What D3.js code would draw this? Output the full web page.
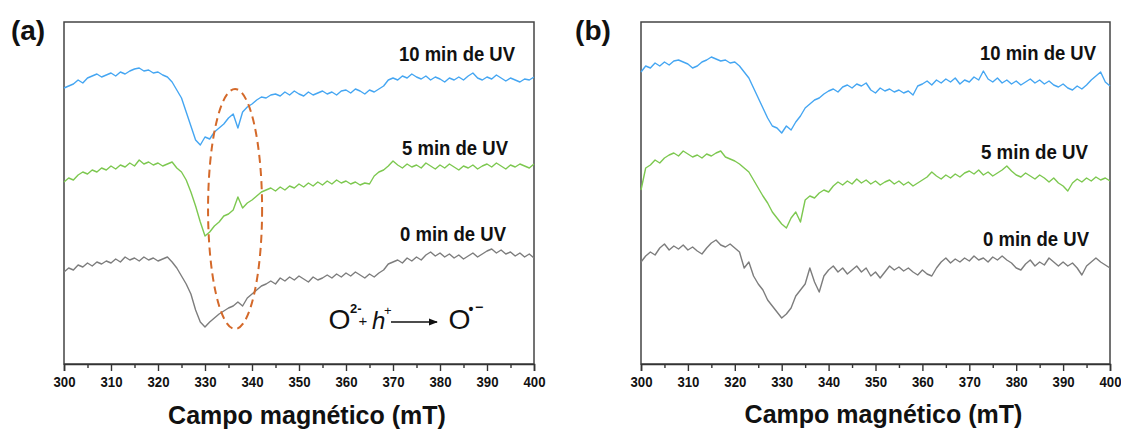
<!DOCTYPE html>
<html>
<head>
<meta charset="utf-8">
<script src="https://cdn.jsdelivr.net/npm/d3@7"></script>
<style>
  html, body { margin: 0; padding: 0; background: #fff; }
  svg { display: block; font-family: "Liberation Sans", Arial, sans-serif; }
</style>
</head>
<body>
<svg id="chart" width="1121" height="432"></svg>
<script>
// ---------- DATA ----------
// Magnetic field (mT), one point per mT from 300 to 400
const field = d3.range(300, 401);

const xTicks = [300, 310, 320, 330, 340, 350, 360, 370, 380, 390, 400];
const xMinorTicks = [305, 315, 325, 335, 345, 355, 365, 375, 385, 395];
const xLabel = "Campo magnético (mT)";
const seriesNames = ["10 min de UV", "5 min de UV", "0 min de UV"];
const panelNames = ["(a)", "(b)"];

// EPR intensity (a.u., stacked offsets as plotted) — panel (a)
const a10 = [276,278,280,284,281,286,288,290,287,289,291,288,292,290,293,295,296,293,294,291,
  292,289,287,282,274,266,252,238,224,219,227,225,232,236,240,246,250,236,252,257,
  260,264,267,266,269,270,268,272,269,273,270,268,272,269,271,273,270,272,269,273,
  274,271,275,273,270,274,272,275,278,284,286,284,288,286,290,287,285,288,284,287,
  285,282,286,284,287,284,288,291,286,284,287,285,289,286,283,286,284,282,285,284,287];
const a5 = [182,186,184,189,192,190,194,192,196,194,198,195,199,197,201,198,204,200,202,199,
  201,198,200,202,196,192,184,172,158,142,128,132,138,142,148,150,154,167,156,161,
  164,168,172,174,176,173,177,174,178,176,180,177,181,178,182,179,183,180,184,181,
  183,180,182,179,181,180,188,192,194,198,203,199,196,200,197,199,196,201,198,195,
  199,196,200,197,194,198,196,199,195,198,200,197,201,198,195,199,197,200,198,196,200];
const a0 = [92,96,94,99,97,101,98,102,100,103,101,105,102,107,104,106,103,107,104,106,
  103,105,107,102,96,88,80,70,54,42,37,42,46,50,53,56,58,62,58,66,
  70,74,78,80,83,80,86,83,87,84,88,85,82,87,84,86,89,86,90,87,
  91,88,92,89,86,90,87,91,94,100,102,104,101,106,103,107,104,109,112,108,
  111,107,110,106,109,105,108,111,107,110,113,115,111,114,110,112,108,111,107,110,106];

// Panel (b)
const b10 = [292,298,296,301,298,302,299,303,304,302,300,296,298,302,304,307,305,303,304,301,
  302,298,292,286,276,266,256,246,238,236,231,238,234,242,248,256,260,264,266,270,
  273,275,272,277,279,276,280,278,281,274,271,276,273,275,272,274,271,273,269,278,
  280,283,279,284,281,285,282,286,280,284,282,287,284,293,285,282,286,281,284,280,
  283,279,282,285,281,284,280,283,279,277,280,276,274,278,275,279,284,288,292,282,278];
const b5 = [174,196,199,204,201,206,209,211,208,213,210,207,209,206,210,208,211,213,207,205,
  203,200,196,192,184,176,168,161,152,146,140,136,146,152,142,164,168,166,171,174,
  172,178,182,179,183,180,185,181,184,180,183,179,182,184,180,183,179,182,178,181,
  184,187,192,188,185,189,186,190,187,191,193,190,194,189,192,188,191,194,198,193,
  189,187,191,188,185,189,186,182,186,181,178,173,181,185,182,186,183,187,184,186,183];
const b0 = [102,108,112,109,116,120,114,118,115,119,114,117,113,110,116,121,124,119,117,120,
  116,112,96,102,88,80,74,64,58,52,46,50,56,68,74,80,96,82,72,88,
  94,98,92,96,90,94,98,92,96,88,92,86,92,98,94,97,93,96,92,89,
  94,90,88,96,102,106,101,105,102,106,103,108,104,106,102,107,104,108,104,101,
  96,94,100,104,98,102,99,106,102,98,102,98,101,96,89,98,102,106,102,99,96];

const colors = ["#45a6f2", "#7dc850", "#7d7d7d"];

// Ellipse annotation (panel a), in data units
const ellipseCenter = [336.4, 155];
const ellipseRadius = [5.75, 120];

// ---------- LAYOUT ----------
const svg = d3.select("#chart");
const panels = [
  { left: 64, right: 534, top: 22, bottom: 364, series: [a10, a5, a0], name: panelNames[0], nameX: 28,
    labels: [{x: 457, y: 60.5, w: 116}, {x: 455, y: 154.5, w: 106}, {x: 453, y: 240.5, w: 106}], titleY: 424 },
  { left: 641, right: 1110, top: 22, bottom: 364, series: [b10, b5, b0], name: panelNames[1], nameX: 593,
    labels: [{x: 1038, y: 60, w: 116}, {x: 1034.5, y: 159, w: 107}, {x: 1036, y: 245.5, w: 106}], titleY: 423 }
];

panels.forEach((p, pi) => {
  const x = d3.scaleLinear().domain([300, 400]).range([p.left, p.right]);
  const y = d3.scaleLinear().domain([0, 342]).range([p.bottom, p.top]);
  const g = svg.append("g");

  // frame
  g.append("rect")
    .attr("x", p.left).attr("y", p.top)
    .attr("width", p.right - p.left).attr("height", p.bottom - p.top)
    .attr("fill", "none").attr("stroke", "#444").attr("stroke-width", 1.5);

  // lines
  const line = d3.line().x((d, i) => x(field[i])).y(d => y(d));
  p.series.forEach((s, si) => {
    g.append("path").datum(s)
      .attr("d", line)
      .attr("fill", "none")
      .attr("stroke", colors[si])
      .attr("stroke-width", 1.4)
      .attr("stroke-linejoin", "round");
  });

  // minor ticks
  g.append("g")
    .attr("transform", `translate(0,${p.bottom})`)
    .call(d3.axisBottom(x).tickValues(xMinorTicks).tickSize(4).tickFormat(""))
    .call(a => a.select(".domain").remove())
    .call(a => a.selectAll("line").attr("stroke", "#333").attr("stroke-width", 1.4));

  // major axis
  const ax = g.append("g")
    .attr("transform", `translate(0,${p.bottom})`)
    .call(d3.axisBottom(x).tickValues(xTicks).tickSize(7).tickPadding(5).tickFormat(d3.format("d")));
  ax.select(".domain").attr("stroke", "#333").attr("stroke-width", 1.6);
  ax.selectAll("line").attr("stroke", "#333").attr("stroke-width", 1.4);
  ax.selectAll("text")
    .attr("fill", "#111")
    .style("font-size", "15px")
    .style("font-weight", "bold")
    .style("font-family", "'Liberation Sans', Arial, sans-serif")
    .attr("textLength", 22)
    .attr("lengthAdjust", "spacingAndGlyphs");

  // series labels
  p.labels.forEach((l, li) => {
    g.append("text")
      .attr("x", l.x).attr("y", l.y)
      .attr("text-anchor", "middle")
      .attr("font-size", 20.5)
      .attr("font-weight", "bold")
      .attr("fill", "#111")
      .attr("textLength", l.w)
      .attr("lengthAdjust", "spacingAndGlyphs")
      .text(seriesNames[li]);
  });

  // axis title
  g.append("text")
    .attr("x", (p.left + p.right) / 2 + 8).attr("y", p.titleY)
    .attr("text-anchor", "middle")
    .attr("font-size", 25)
    .attr("font-weight", "bold")
    .attr("fill", "#111")
    .text(xLabel);

  // panel label
  svg.append("text")
    .attr("x", p.nameX).attr("y", 40)
    .attr("text-anchor", "middle")
    .attr("font-size", 28)
    .attr("font-weight", "bold")
    .attr("fill", "#111")
    .text(p.name);

  if (pi === 0) {
    // dashed ellipse
    g.append("ellipse")
      .attr("cx", x(ellipseCenter[0])).attr("cy", y(ellipseCenter[1]))
      .attr("rx", x(300 + ellipseRadius[0]) - x(300))
      .attr("ry", y(0) - y(ellipseRadius[1]))
      .attr("fill", "none")
      .attr("stroke", "#d4692a")
      .attr("stroke-width", 2)
      .attr("stroke-dasharray", "8,5");

    // reaction annotation
    const defs = svg.append("defs");
    defs.append("marker").attr("id", "arr")
      .attr("viewBox", "0 0 10 10").attr("refX", 9).attr("refY", 5)
      .attr("markerWidth", 7).attr("markerHeight", 7).attr("orient", "auto")
      .append("path").attr("d", "M0,1 L10,5 L0,9 Z").attr("fill", "#111");

    const ann = g.append("g").attr("fill", "#111");
    ann.append("text").attr("x", 328.5).attr("y", 328.5)
      .attr("font-size", 28).attr("textLength", 22).attr("lengthAdjust", "spacingAndGlyphs").text("O");
    ann.append("text").attr("x", 350).attr("y", 313)
      .attr("font-size", 13).attr("font-weight", "bold").text("2-");
    ann.append("text").attr("x", 358.5).attr("y", 326)
      .attr("font-size", 15).text("+");
    ann.append("text").attr("x", 372).attr("y", 328.5)
      .attr("font-size", 24).attr("font-style", "italic").text("h");
    ann.append("text").attr("x", 384).attr("y", 315)
      .attr("font-size", 13).text("+");
    ann.append("line").attr("x1", 391).attr("x2", 437).attr("y1", 322).attr("y2", 322)
      .attr("stroke", "#111").attr("stroke-width", 1.3).attr("marker-end", "url(#arr)");
    ann.append("text").attr("x", 448.5).attr("y", 329)
      .attr("font-size", 28).attr("textLength", 22).attr("lengthAdjust", "spacingAndGlyphs").text("O");
    ann.append("text").attr("x", 468.5).attr("y", 314)
      .attr("font-size", 14).attr("font-weight", "bold").text("•");
    ann.append("text").attr("x", 475).attr("y", 312)
      .attr("font-size", 14).attr("font-weight", "bold").text("−");
  }
});
</script>
</body>
</html>
